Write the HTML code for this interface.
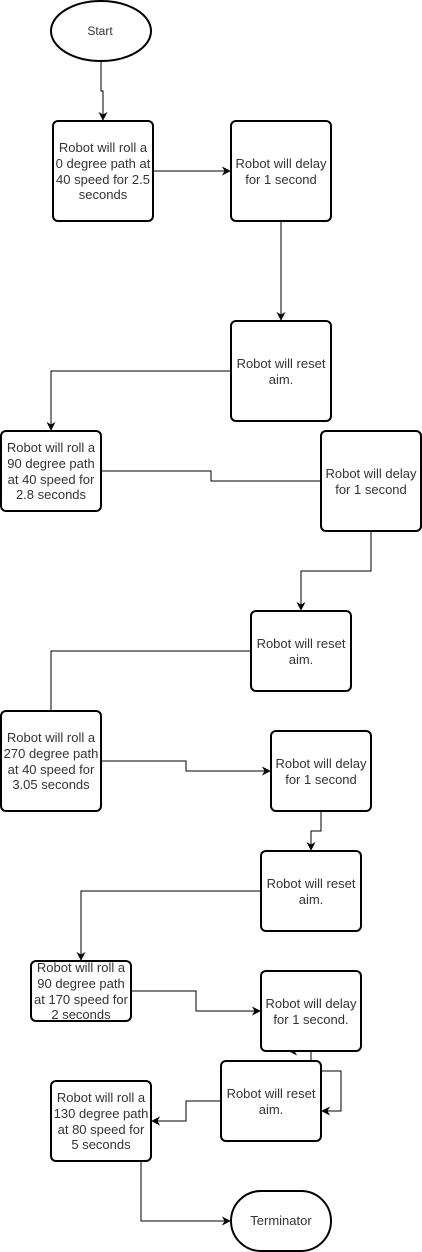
<!DOCTYPE html>
<html><head><meta charset="utf-8"><style>
html,body{margin:0;padding:0;background:#fff;}
svg{display:block;}
text{font-family:"Liberation Sans",Arial,sans-serif;font-size:13px;fill:#333;text-anchor:middle;}
.n{fill:#fff;stroke:#000;stroke-width:2;}
.e{fill:none;stroke:#000;stroke-width:1;}
</style></head><body>
<svg width="422" height="1252" viewBox="0 0 422 1252" xmlns="http://www.w3.org/2000/svg">
<defs><marker id="a" viewBox="0 0 10 10" refX="9" refY="5" markerWidth="9" markerHeight="9" markerUnits="userSpaceOnUse" orient="auto"><path d="M0,0 L10,5 L0,10 L3,5 Z" fill="#000"/></marker></defs>

<path class="e" d="M101,61 V91 H103 V120" marker-end="url(#a)"/>
<path class="e" d="M153,171 H230" marker-end="url(#a)"/>
<path class="e" d="M281,221 V320" marker-end="url(#a)"/>
<path class="e" d="M231,371 H51 V430" marker-end="url(#a)"/>
<path class="e" d="M101,471 H211 V481 H321"/>
<path class="e" d="M371,531 V571 H301 V610" marker-end="url(#a)"/>
<path class="e" d="M251,651 H51 V711"/>
<path class="e" d="M101,761 H186 V771 H270" marker-end="url(#a)"/>
<path class="e" d="M321,811 V831 H311 V850" marker-end="url(#a)"/>
<path class="e" d="M261,891 H81 V960" marker-end="url(#a)"/>
<path class="e" d="M131,991 H196 V1011 H260" marker-end="url(#a)"/>
<path class="e" d="M311,1061 V1051 H289" marker-end="url(#a)"/>
<path class="e" d="M321,1071 H341 V1111 H322" marker-end="url(#a)"/>
<path class="e" d="M221,1101 H186 V1121 H152" marker-end="url(#a)"/>
<path class="e" d="M141,1161 V1221 H230" marker-end="url(#a)"/>

<ellipse class="n" cx="101" cy="31" rx="50" ry="30"/>
<text x="100" y="35" style="font-size:12px">Start</text>

<rect class="n" x="53" y="121" width="100" height="100" rx="5"/>
<text x="103" y="152">Robot will roll a</text><text x="103" y="168">0 degree path at</text><text x="103" y="184">40 speed for 2.5</text><text x="103" y="199">seconds</text>

<rect class="n" x="231" y="121" width="100" height="100" rx="5"/>
<text x="281" y="168">Robot will delay</text><text x="281" y="184">for 1 second</text>

<rect class="n" x="231" y="321" width="100" height="100" rx="5"/>
<text x="281" y="368">Robot will reset</text><text x="281" y="384">aim.</text>

<rect class="n" x="1" y="431" width="100" height="80" rx="5"/>
<text x="51" y="452">Robot will roll a</text><text x="51" y="468">90 degree path</text><text x="51" y="484">at 40 speed for</text><text x="51" y="499">2.8 seconds</text>

<rect class="n" x="321" y="431" width="100" height="100" rx="5"/>
<text x="371" y="478">Robot will delay</text><text x="371" y="494">for 1 second</text>

<rect class="n" x="251" y="611" width="100" height="80" rx="5"/>
<text x="301" y="648">Robot will reset</text><text x="301" y="664">aim.</text>

<rect class="n" x="1" y="711" width="100" height="100" rx="5"/>
<text x="51" y="742">Robot will roll a</text><text x="51" y="758">270 degree path</text><text x="51" y="774">at 40 speed for</text><text x="51" y="789">3.05 seconds</text>

<rect class="n" x="271" y="731" width="100" height="80" rx="5"/>
<text x="321" y="768">Robot will delay</text><text x="321" y="784">for 1 second</text>

<rect class="n" x="261" y="851" width="100" height="80" rx="5"/>
<text x="311" y="888">Robot will reset</text><text x="311" y="904">aim.</text>

<rect class="n" x="31" y="961" width="100" height="60" rx="5"/>
<text x="81" y="972">Robot will roll a</text><text x="81" y="988">90 degree path</text><text x="81" y="1004">at 170 speed for</text><text x="81" y="1019">2 seconds</text>

<rect class="n" x="261" y="971" width="100" height="80" rx="5"/>
<text x="311" y="1008">Robot will delay</text><text x="311" y="1024">for 1 second.</text>

<rect class="n" x="221" y="1061" width="100" height="80" rx="5"/>
<text x="271" y="1098">Robot will reset</text><text x="271" y="1114">aim.</text>

<rect class="n" x="51" y="1081" width="100" height="80" rx="5"/>
<text x="101" y="1102">Robot will roll a</text><text x="101" y="1118">130 degree path</text><text x="101" y="1134">at 80 speed for</text><text x="101" y="1149">5 seconds</text>

<rect class="n" x="231" y="1191" width="100" height="60" rx="30"/>
<text x="281" y="1225">Terminator</text>
</svg>
</body></html>
